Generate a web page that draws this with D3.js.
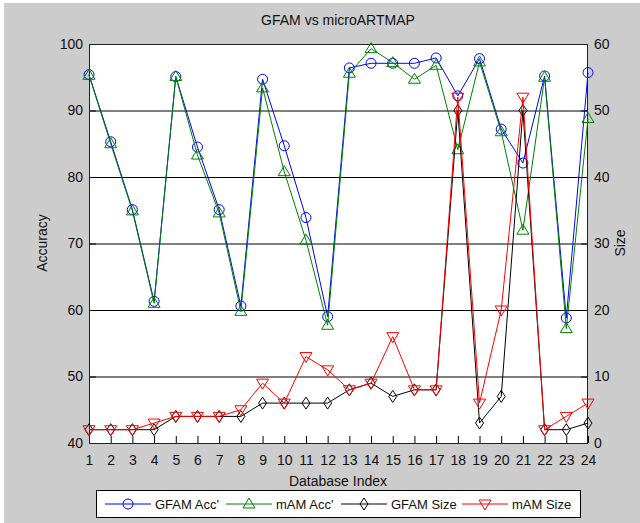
<!DOCTYPE html>
<html><head><meta charset="utf-8">
<script src="https://cdn.jsdelivr.net/npm/d3@7"></script>
<style>
html,body{margin:0;padding:0;background:#fff;}
svg{display:block;font-family:"Liberation Sans",Arial,sans-serif;}
</style></head>
<body>
<svg id="c" width="640" height="523"></svg>
<script>
const dbIndex = d3.range(1, 25);
const gfamAcc = [95.4,85.3,75.1,61.3,95.1,84.5,75.1,60.6,94.7,84.7,73.9,59.0,96.4,97.1,97.1,97.1,97.9,92.2,97.8,87.2,82.1,95.2,58.8,95.7];
const mamAcc  = [95.3,85.0,74.9,61.0,95.1,83.3,74.6,59.8,93.4,80.8,70.5,57.7,95.6,99.3,97.2,94.7,96.8,84.1,97.3,86.8,72.0,95.0,57.2,88.8];
const gfamSize = [2,2,2,2,4,4,4,4,6,6,6,6,8,9,7,8,8,50,3,7,50,2,2,3];
const mamSize  = [2,2,2,3,4,4,4,5,9,6,13,11,8,9,16,8,8,52,6,20,52,2,4,6];
const accTicks = [40,50,60,70,80,90,100];
const sizeTicks = [0,10,20,30,40,50,60];
const legendLabels = ["GFAM Acc'","mAM Acc'","GFAM Size","mAM Size"];

const svg = d3.select("#c");
svg.append("rect").attr("x",4).attr("y",3).attr("width",636).attr("height",520).attr("fill","#cccccc");

const L=89, R=588, T=44, B=443;
const x = d3.scaleLinear().domain([1,24]).range([L,R]);
const yL = d3.scaleLinear().domain([40,100]).range([B,T]);
const yR = d3.scaleLinear().domain([0,60]).range([B,T]);

svg.append("rect").attr("x",L).attr("y",T).attr("width",R-L).attr("height",B-T).attr("fill","#fff");

// grid
svg.append("g").selectAll("line").data(accTicks.slice(1,-1)).join("line")
  .attr("x1",L).attr("x2",R).attr("y1",d=>yL(d)+0.5).attr("y2",d=>yL(d)+0.5)
  .attr("stroke","#000").attr("stroke-width",1);

// axes
const fs = "14px";
const ax = svg.append("g").attr("transform",`translate(0,${B})`)
  .call(d3.axisBottom(x).tickValues(dbIndex).tickFormat(d3.format("d")).tickSizeInner(-7).tickSizeOuter(0).tickPadding(12));
const al = svg.append("g").attr("transform",`translate(${L},0)`)
  .call(d3.axisLeft(yL).tickValues(accTicks).tickSizeInner(-7).tickSizeOuter(0).tickPadding(6));
const ar = svg.append("g").attr("transform",`translate(${R},0)`)
  .call(d3.axisRight(yR).tickValues(sizeTicks).tickSizeInner(-7).tickSizeOuter(0).tickPadding(6));
[ax,al,ar].forEach(g=>{
  g.select(".domain").remove();
  g.selectAll("line").attr("stroke","#000");
  g.selectAll("text").attr("font-size",fs).attr("fill","#111").attr("font-family","Liberation Sans, Arial, sans-serif");
});
svg.append("rect").attr("x",L+0.5).attr("y",T+0.5).attr("width",R-L-1).attr("height",B-T).attr("fill","none").attr("stroke","#222");

// series
function drawLine(vals, yScale, color){
  const line = d3.line().x((d,i)=>x(dbIndex[i])).y(d=>yScale(d));
  svg.append("path").datum(vals).attr("d",line).attr("fill","none").attr("stroke",color).attr("stroke-width",1);
}
function marker(g, kind, color){
  if(kind==="circle") g.append("circle").attr("r",5).attr("fill","none").attr("stroke",color);
  else if(kind==="up") g.append("path").attr("d","M0,-6L6,4L-6,4Z").attr("fill","none").attr("stroke",color);
  else if(kind==="down") g.append("path").attr("d","M0,6L6,-4L-6,-4Z").attr("fill","none").attr("stroke",color);
  else if(kind==="diamond") g.append("path").attr("d","M0,-6L4,0L0,6L-4,0Z").attr("fill","none").attr("stroke",color);
}
function drawMarkers(vals, yScale, color, kind){
  const g = svg.append("g");
  vals.forEach((v,i)=>{
    const m = g.append("g").attr("transform",`translate(${x(dbIndex[i])},${yScale(v)})`);
    marker(m, kind, color);
  });
}
const series = [
  {vals:gfamAcc, y:yL, color:"#0000ff", kind:"circle"},
  {vals:mamAcc, y:yL, color:"#008000", kind:"up"},
  {vals:gfamSize, y:yR, color:"#000000", kind:"diamond"},
  {vals:mamSize, y:yR, color:"#ff0000", kind:"down"}
];
series.forEach(s=>{ drawLine(s.vals,s.y,s.color); drawMarkers(s.vals,s.y,s.color,s.kind); });

// titles
svg.append("text").attr("x",338).attr("y",25).attr("text-anchor","middle").attr("font-size","14px").attr("fill","#111").text("GFAM vs microARTMAP");
svg.append("text").attr("x",338).attr("y",486).attr("text-anchor","middle").attr("font-size","14px").attr("fill","#111").text("Database Index");
svg.append("text").attr("transform","translate(47,243) rotate(-90)").attr("text-anchor","middle").attr("font-size","14px").attr("fill","#111").text("Accuracy");
svg.append("text").attr("transform","translate(625,243) rotate(-90)").attr("text-anchor","middle").attr("font-size","14px").attr("fill","#111").text("Size");

// legend
const lg = svg.append("g");
lg.append("rect").attr("x",96.5).attr("y",490.5).attr("width",484).attr("height",27).attr("fill","#fff").attr("stroke","#000").attr("stroke-width",1);
const lx = [105,226,341,462];
const ly = 504;
series.forEach((s,i)=>{
  lg.append("line").attr("x1",lx[i]).attr("x2",lx[i]+46).attr("y1",ly).attr("y2",ly).attr("stroke",s.color);
  const m = lg.append("g").attr("transform",`translate(${lx[i]+23},${ly})`);
  marker(m, s.kind, s.color);
  lg.append("text").attr("x",lx[i]+50).attr("y",ly+5).attr("font-size","13px").attr("fill","#111").text(legendLabels[i]);
});
</script>
</body></html>
